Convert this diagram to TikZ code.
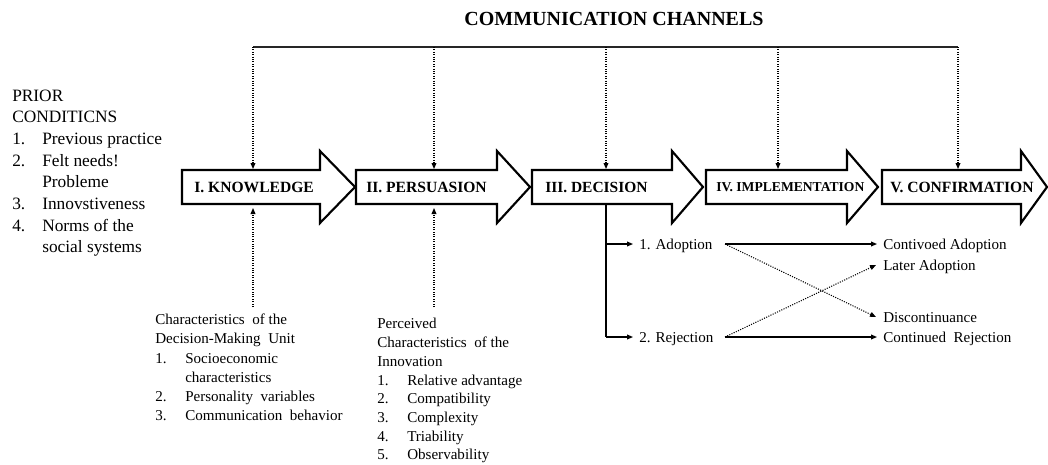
\documentclass[tikz,border=0pt]{standalone}
\usepackage{fontspec}
\setmainfont{Liberation Serif}
\usetikzlibrary{arrows.meta}
\newcommand\stagearr[3]{\draw[stagebox] (#1,170) -- (#2,170) -- (#2,151) -- (#3,187) -- (#2,223) -- (#2,204) -- (#1,204) -- cycle;}
\begin{document}
\begin{tikzpicture}[x=0.75pt,y=-0.75pt,
  stagebox/.style={draw=black, line width=1.6pt, fill=white, line join=miter},
  stagelabel/.style={anchor=west, inner sep=0pt},
  txt/.style={anchor=base west, inner sep=0pt, font=\fontsize{11.3}{13}\selectfont},
  ptxt/.style={anchor=base west, inner sep=0pt, font=\fontsize{13}{15}\selectfont},
  tipped/.style={-{Triangle[length=4.5pt,width=3.6pt]}},
  dotarrow/.style={tipped, densely dotted, line width=0.8pt},
  solidarrow/.style={tipped, line width=0.9pt},
  cline/.style={line width=0.8pt, draw=black!85},
]
\useasboundingbox (0,0) rectangle (1048,464);

% title
\node[inner sep=0pt, font=\fontsize{15}{17}\selectfont\bfseries] (title) at (614,19) {COMMUNICATION CHANNELS};

% stage arrows
\stagearr{182}{320}{355}
\stagearr{356}{497}{530}
\stagearr{532}{672}{703}
\stagearr{706}{847}{878}
\stagearr{882}{1021}{1047}

\node[stagelabel, font=\fontsize{11.7}{13}\selectfont\bfseries] (know) at (194,187) {I. KNOWLEDGE};
\node[stagelabel, font=\fontsize{11.7}{13}\selectfont\bfseries] (pers) at (366,187) {II. PERSUASION};
\node[stagelabel, font=\fontsize{11.6}{13}\selectfont\bfseries] (deci) at (545,187) {III. DECISION};
\node[stagelabel, font=\fontsize{10.2}{12}\selectfont\bfseries] (impl) at (716,187) {IV. IMPLEMENTATION};
\node[stagelabel, font=\fontsize{11.7}{13}\selectfont\bfseries] (conf) at (890,187) {V. CONFIRMATION};

% communication channels connectors
\coordinate (cc1) at (253,47);
\coordinate (cc2) at (434,47);
\coordinate (cc3) at (606,47);
\coordinate (cc4) at (778,47);
\coordinate (cc5) at (958,47);
\coordinate (st1) at (253,169);
\coordinate (st2) at (434,169);
\coordinate (st3) at (606,169);
\coordinate (st4) at (778,169);
\coordinate (st5) at (958,169);
\draw[cline] (cc1) -- (cc5);
\foreach \i in {1,...,5} {\draw[dotarrow] (cc\i) -- (st\i);}

% prior conditions
\node[ptxt] (pc0) at (12,101) {PRIOR};
\node[ptxt] (pc1) at (12,122.7) {CONDITICNS};
\node[ptxt] (pc2n) at (12,144.4) {1.};
\node[ptxt] (pc2) at (42,144.4) {Previous practice};
\node[ptxt] (pc3n) at (12,166.1) {2.};
\node[ptxt] (pc3) at (42,166.1) {Felt needs!};
\node[ptxt] (pc4) at (42,187.8) {Probleme};
\node[ptxt] (pc5n) at (12,209.5) {3.};
\node[ptxt] (pc5) at (42,209.5) {Innovstiveness};
\node[ptxt] (pc6n) at (12,231.2) {4.};
\node[ptxt] (pc6) at (42,231.2) {Norms of the};
\node[ptxt] (pc7) at (42,252.9) {social systems};

% decision-making unit
\node[txt] (du0) at (155,324) {Characteristics\ \ of the};
\node[txt] (du1) at (155,343.5) {Decision-Making\ \ Unit};
\node[txt] (du2n) at (155,363) {1.};
\node[txt] (du2) at (185,363) {Socioeconomic};
\node[txt] (du3) at (185,382) {characteristics};
\node[txt] (du4n) at (155,401.5) {2.};
\node[txt] (du4) at (185,401.5) {Personality\ \ variables};
\node[txt] (du5n) at (155,420.5) {3.};
\node[txt] (du5) at (185,420.5) {Communication\ \ behavior};
\coordinate (du-top) at (253,307);
\coordinate (kn-bot) at (253,208);
\draw[dotarrow] (du-top) -- (kn-bot);

% perceived characteristics
\node[txt] (pi0) at (377,328) {Perceived};
\node[txt] (pi1) at (377,347) {Characteristics\ \ of the};
\node[txt] (pi2) at (377,366) {Innovation};
\node[txt] (pi3n) at (377,385) {1.};
\node[txt] (pi3) at (407,385) {Relative advantage};
\node[txt] (pi4n) at (377,403.5) {2.};
\node[txt] (pi4) at (407,403.5) {Compatibility};
\node[txt] (pi5n) at (377,422) {3.};
\node[txt] (pi5) at (407,422) {Complexity};
\node[txt] (pi6n) at (377,441) {4.};
\node[txt] (pi6) at (407,441) {Triability};
\node[txt] (pi7n) at (377,459.5) {5.};
\node[txt] (pi7) at (407,459.5) {Observability};
\coordinate (pi-top) at (434,307);
\coordinate (pe-bot) at (434,208);
\draw[dotarrow] (pi-top) -- (pe-bot);

% decision outcomes
\node[txt] (adopt) at (639,249) {1. Adoption};
\node[txt] (reject) at (639,342) {2. Rejection};
\node[txt] (cadopt) at (883,249) {Contivoed Adoption};
\node[txt] (ladopt) at (883,270) {Later Adoption};
\node[txt] (disc) at (883,322) {Discontinuance};
\node[txt] (crej) at (883,342) {Continued\ \ Rejection};

\coordinate (dec-b) at (606,204);
\coordinate (dec-a) at (606,244);
\coordinate (dec-r) at (606,337);
\coordinate (ad-in) at (633,244);
\coordinate (rj-in) at (633,337);
\draw[line width=1pt] (dec-b) -- (dec-r);
\draw[solidarrow] (dec-a) -- (ad-in);
\draw[solidarrow] (dec-r) -- (rj-in);

\coordinate (ad-out) at (725,244);
\coordinate (rj-out) at (725,337);
\coordinate (ca-in) at (877,244);
\coordinate (la-in) at (876,265);
\coordinate (di-in) at (876,317);
\coordinate (cr-in) at (877,337);
\draw[solidarrow] (ad-out) -- (ca-in);
\draw[solidarrow] (rj-out) -- (cr-in);
\draw[dotarrow] (ad-out) -- (di-in);
\draw[dotarrow] (rj-out) -- (la-in);
\end{tikzpicture}
\end{document}
